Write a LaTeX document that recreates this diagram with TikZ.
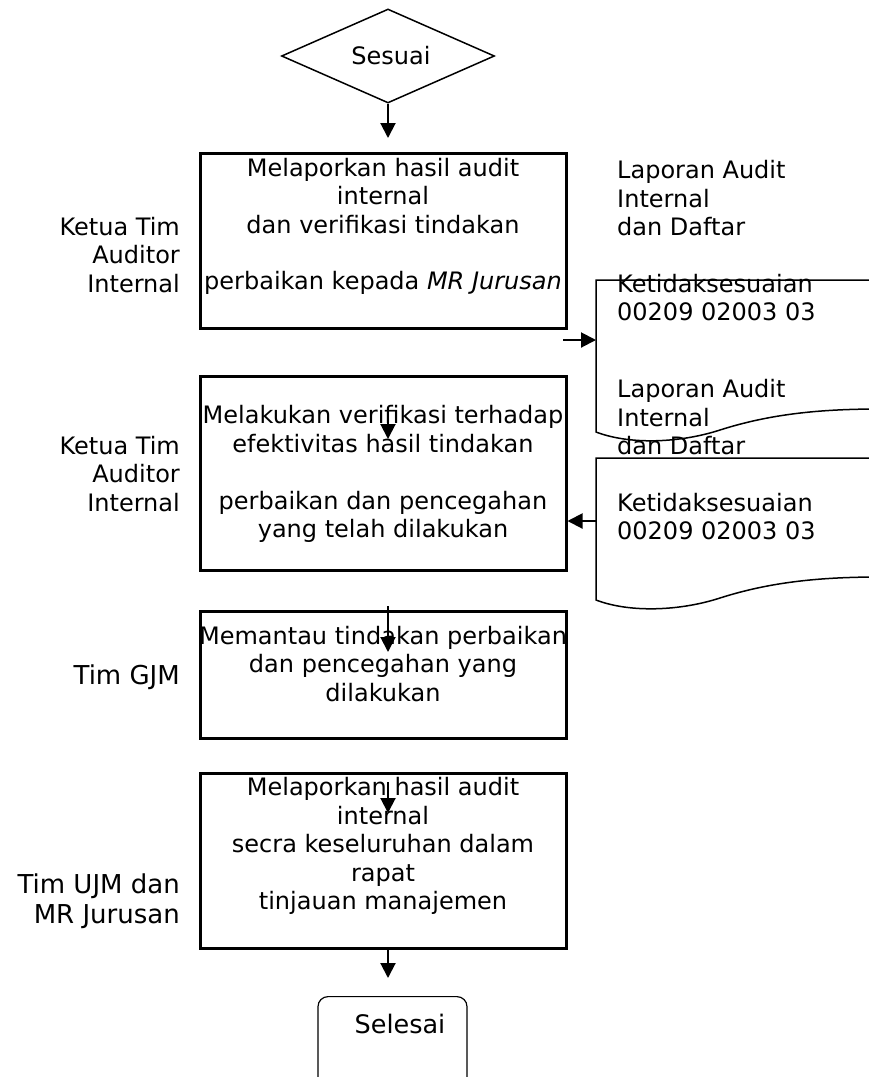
\documentclass[tikz,border=0pt]{standalone}
\usepackage{fontspec}
\setmainfont{DejaVu Sans}
\usetikzlibrary{arrows.meta,shapes.geometric}
\begin{document}
\begin{tikzpicture}[x=1pt,y=-1pt,
  txt/.style={inner sep=0pt, align=center, font=\fontsize{24}{28.4}\selectfont},
  lbl/.style={inner sep=0pt, align=right, anchor=east, font=\fontsize{24}{28.8}\selectfont},
  biglbl/.style={inner sep=0pt, align=right, anchor=east, font=\fontsize{26}{30}\selectfont},
  doctxt/.style={inner sep=0pt, align=left, anchor=west, font=\fontsize{24}{28.4}\selectfont},
  procbox/.style={draw, line width=3pt, inner sep=0pt, minimum width=366pt},
  docline/.style={draw, line width=1.5pt},
  arr/.style={-{Triangle[length=15pt,width=15pt]}, line width=2pt}]
\useasboundingbox (0,0) rectangle (869,1077);
\clip (0,0) rectangle (869,1077);

% decision
\node[diamond, draw, line width=1.5pt, minimum width=213pt, minimum height=94pt,
      aspect=2.27, inner sep=0pt, font=\fontsize{24}{28}\selectfont] (d) at (388,56) {\hspace*{6pt}Sesuai};

% process boxes
\node[procbox, minimum height=175pt] (b1) at (383,240.5) {};
\node[procbox, minimum height=194pt] (b2) at (383,473) {};
\node[procbox, minimum height=127pt] (b3) at (383,674.5) {};
\node[procbox, minimum height=175pt] (b4) at (383,860.5) {};

% terminator
\node[draw, rounded corners=10pt, line width=1.2pt, minimum width=149pt,
      minimum height=110pt, anchor=north, inner sep=0pt] (s) at (392.5,996) {};
\node[txt, font=\fontsize{25.5}{30}\selectfont] (st) at (400,1024) {Selesai};

% box texts
\node[txt] (t1) at (383,226.5) {Melaporkan hasil audit\\internal\\dan verifikasi tindakan\\[28.4pt]perbaikan kepada \textit{MR Jurusan}};
\node[txt] (t2) at (383,474) {Melakukan verifikasi terhadap\\efektivitas hasil tindakan\\[28.4pt]perbaikan dan pencegahan\\yang telah dilakukan};
\node[txt] (t3) at (383,664) {Memantau tindakan perbaikan\\dan pencegahan yang\\dilakukan};
\node[txt] (t4) at (383,846) {Melaporkan hasil audit\\internal\\secra keseluruhan dalam\\rapat\\tinjauan manajemen};

% actor labels
\node[lbl] (l1) at (180,255) {Ketua Tim\\Auditor\\Internal};
\node[lbl] (l2) at (180,474) {Ketua Tim\\Auditor\\Internal};
\node[biglbl] (l3) at (180,677) {Tim GJM};
\node[biglbl] (l4) at (180,901) {Tim UJM dan\\MR Jurusan};

% document shapes
\draw[docline] (880,280) -- (596,280) -- (596,432)
  .. controls (630,445) and (680,443) .. (720,430)
  .. controls (770,414) and (820,409) .. (880,409);
\draw[docline] (880,458) -- (596,458) -- (596,600)
  .. controls (630,613) and (680,611) .. (720,598)
  .. controls (770,582) and (820,577) .. (880,577);

% document texts
\node[doctxt] (r1) at (617,241) {Laporan Audit\\Internal\\dan Daftar\\[28.4pt]Ketidaksesuaian\\00209 02003 03};
\node[doctxt] (r2) at (617,460) {Laporan Audit\\Internal\\dan Daftar\\[28.4pt]Ketidaksesuaian\\00209 02003 03};

% connector end points
\coordinate (a0e) at (388,138);
\coordinate (a1s) at (563,340);
\coordinate (doc1l) at (596,340);
\coordinate (doc2l) at (596,521);
\coordinate (a3s) at (388,407);
\coordinate (a3e) at (388,439);
\coordinate (a4s) at (388,606);
\coordinate (a4e) at (388,652);
\coordinate (a5s) at (388,782);
\coordinate (a5e) at (388,813);
\coordinate (a6s) at (388,948);
\coordinate (a6e) at (388,978);

% connectors
\draw[arr] (d.south) -- (a0e);
\draw[arr] (a1s) -- (doc1l);
\draw[arr] (doc2l) -- (b2.east |- doc2l);
\draw[arr] (a3s) -- (a3e);
\draw[arr] (a4s) -- (a4e);
\draw[arr] (a5s) -- (a5e);
\draw[arr] (a6s) -- (a6e);
\end{tikzpicture}
\end{document}
